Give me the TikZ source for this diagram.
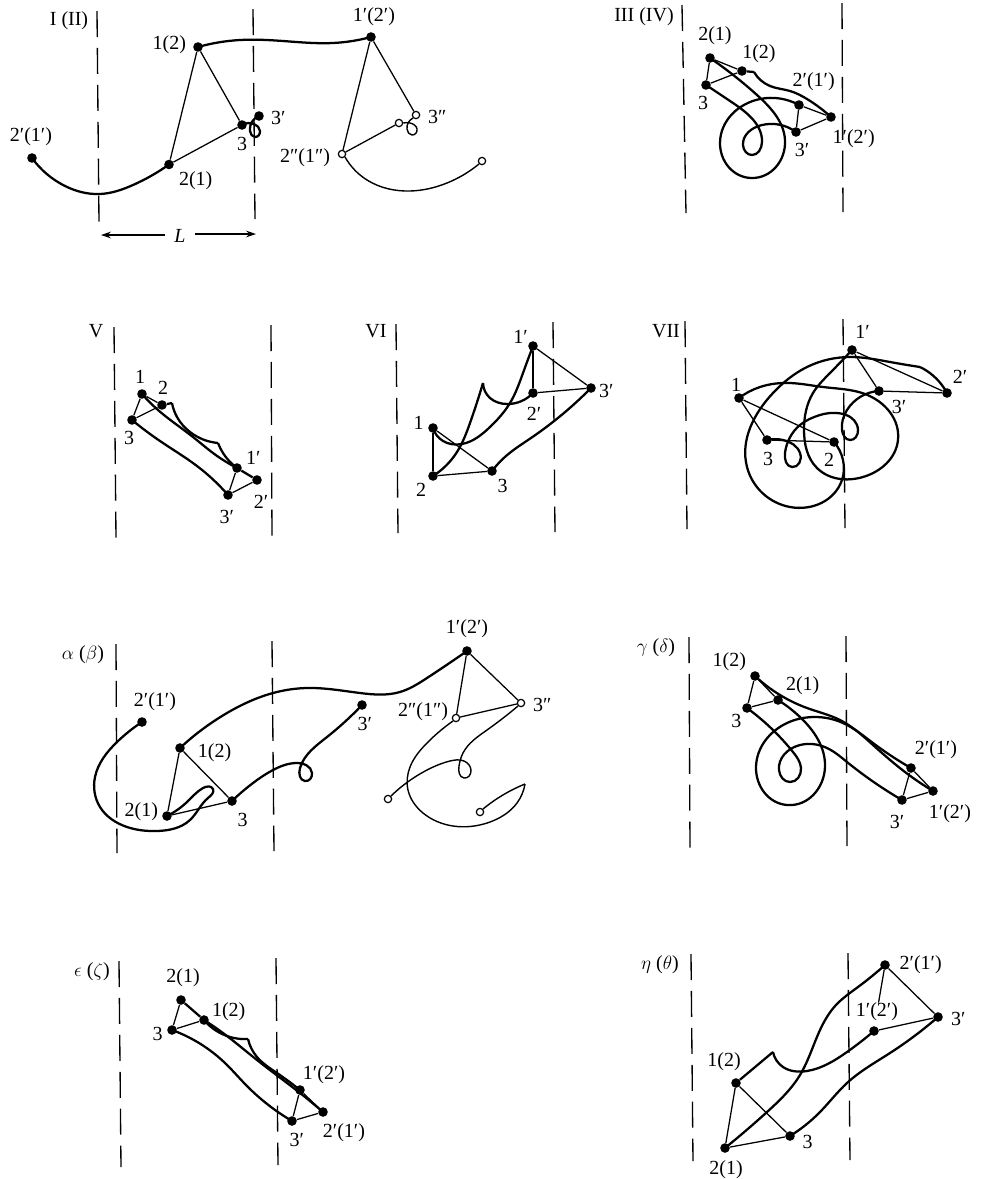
\documentclass[tikz,border=0pt]{standalone}
\usepackage{fontspec}
\setmainfont{Liberation Serif}
\usetikzlibrary{positioning, arrows.meta, hobby}

\begin{document}
\begin{tikzpicture}[
        x=0.75pt, y=-0.75pt,
        >={Stealth[length=7.5pt, width=5pt]},
        dot/.style={circle, fill=black, inner sep=0pt, minimum size=7.2pt},
        hollow/.style={circle, draw, line width=0.9pt, fill=white, inner sep=0pt, minimum size=5.5pt},
        lab/.style={font=\fontsize{15}{17}\selectfont, inner sep=0pt},
        wall/.style={line width=1pt, dash pattern=on 19.5pt off 8.2pt},
        bond/.style={line width=0.95pt},
        trace/.style={line width=1.7pt, line join=round, use Hobby shortcut},
        ghost/.style={line width=1.05pt, line join=round, use Hobby shortcut}
    ]
        \useasboundingbox (0,0) rectangle (983,1179);

        % Panel I (II)
        \draw[wall] (97,11) -- (99,222) (253,9) -- (255,219);
        \node[lab] (aTitle) at (69,21) {I (II)};
        \node[dot] (aTwoP) at (32,158) {};
        \node[dot] (aTwo) at (169,164.5) {};
        \node[dot] (aOne) at (198,47) {};
        \node[dot] (aThree) at (242,125) {};
        \node[dot] (aThreeP) at (259,116) {};
        \node[dot] (aOneP) at (371,37) {};
        \node[hollow] (aTwoQ) at (342,154) {};
        \node[hollow] (aThreeQ) at (416,115) {};
        \node[hollow] (aThreeR) at (399,123) {};
        \node[hollow] (aEnd) at (482,161) {};
        \node[lab, above=5.5pt of aTwoP, xshift=-0.8pt] (aLabTwoP) {2′(1′)};
        \node[lab, right=3.5pt of aTwo, yshift=-12.4pt] (aLabTwo) {2(1)};
        \node[lab, left=5pt of aOne, yshift=2pt] (aLabOne) {1(2)};
        \node[lab, below=5.5pt of aThree] (aLabThree) {3};
        \node[lab, right=5pt of aThreeP, yshift=-1.5pt] (aLabThreeP) {3′};
        \node[lab, above=4.3pt of aOneP, xshift=2.2pt] (aLabOneP) {1′(2′)};
        \node[lab, right=5.6pt of aThreeQ, yshift=-1.5pt] (aLabThreeQ) {3″};
        \node[lab, left=5.6pt of aTwoQ, yshift=-3pt] (aLabTwoQ) {2″(1″)};
        \node[lab] (aLength) at (180,236) {\textit{L}};
        \coordinate (aLeft) at (101,235);
        \coordinate (aRight) at (256,234);
        \draw[->, bond, shorten <=7pt] (aLength.west |- aLeft) -- (aLeft);
        \draw[->, bond, shorten <=7pt] (aLength.east |- aRight) -- (aRight);
        \draw[bond] (aOne) -- (aTwo);
        \draw[bond] (aOne) -- (aThree);
        \draw[bond] (aTwo) -- (aThree);
        \draw[bond] (aOneP) -- (aTwoQ);
        \draw[bond] (aOneP) -- (aThreeQ);
        \draw[bond] (aTwoQ) -- (aThreeR);
        \draw[trace] (aTwoP.center) .. (65,186) .. (100,194) .. (133,185) .. (aTwo);
        \draw[trace] (aOne.center) .. (240,40) .. (283,41) .. (333,43) .. (aOneP);
        \draw[trace] (aThree.center) .. (254,124) .. (260,131) .. (255,137) .. (250,131) .. (aThreeP);
        \draw[ghost] (aThreeR.east) .. (410,123) .. (417,129) .. (412,135) .. (407,129) .. (aThreeQ.south west);
        \draw[ghost] (aTwoQ.south east) .. (367,180) .. (410,191) .. (447,183) .. (aEnd.south west);

        % Panel III (IV)
        \draw[wall] (682,5) -- (686,213) (842,3) -- (843,212);
        \node[lab] (bTitle) at (644,17) {III (IV)};
        \node[dot] (bTwo) at (710,58) {};
        \node[dot] (bOne) at (742,71) {};
        \node[dot] (bThree) at (706,85) {};
        \node[dot] (bThreeP) at (796,132) {};
        \node[dot] (bTwoP) at (799,105) {};
        \node[dot] (bOneP) at (831,117) {};
        \coordinate (bCusp) at (754,72);
        \node[lab, above=5.8pt of bTwo, xshift=3.7pt] (bLabTwo) {2(1)};
        \node[lab, above=2pt of bOne, xshift=12.7pt] (bLabOne) {1(2)};
        \node[lab, below=4.4pt of bThree, xshift=-2.2pt] (bLabThree) {3};
        \node[lab, above=6.4pt of bTwoP, xshift=11pt] (bLabTwoP) {2′(1′)};
        \node[lab, below=4.4pt of bThreeP, xshift=4.5pt] (bLabThreeP) {3′};
        \node[lab, below=5.8pt of bOneP, xshift=17pt] (bLabOneP) {1′(2′)};
        \draw[bond] (bTwo) -- (bOne);
        \draw[bond] (bTwo) -- (bThree);
        \draw[bond] (bOne) -- (bThree);
        \draw[bond] (bTwoP) -- (bThreeP);
        \draw[bond] (bTwoP) -- (bOneP);
        \draw[bond] (bThreeP) -- (bOneP);
        \draw[trace] (bOne) -- (bCusp);
        \draw[trace] (bCusp) .. (770,86) .. (790,91) .. (807,99) .. (bOneP);
        \draw[trace] (bTwo.center) .. (757,95) .. (785,140) .. (751,178) .. (720,143) .. (760,99) .. (bTwoP);
        \draw[trace] (bThree.center) .. (733,103) .. (762,142) .. (752,155) .. (743,145) .. (762,125) .. (bThreeP);

        % Panel V
        \draw[wall] (114,327) -- (116,538) (271,325) -- (272,536);
        \node[lab] (cTitle) at (96,331) {V};
        \node[dot] (cOne) at (142,394) {};
        \node[dot] (cTwo) at (162,405) {};
        \node[dot] (cThree) at (132,420) {};
        \node[dot] (cOneP) at (237,468) {};
        \node[dot] (cTwoP) at (257,480) {};
        \node[dot] (cThreeP) at (228,495) {};
        \coordinate (cCuspA) at (172,403);
        \coordinate (cCuspB) at (218,443);
        \node[lab, above=4pt of cOne, xshift=-1.5pt] (cLabOne) {1};
        \node[lab, above=4pt of cTwo, xshift=0.8pt] (cLabTwo) {2};
        \node[lab, below=4.4pt of cThree, xshift=-2.2pt] (cLabThree) {3};
        \node[lab, right=2.8pt of cOneP, yshift=7.5pt] (cLabOneP) {1′};
        \node[lab, below=7.4pt of cTwoP, xshift=3pt] (cLabTwoP) {2′};
        \node[lab, below=7.4pt of cThreeP, xshift=-0.8pt] (cLabThreeP) {3′};
        \draw[bond] (cOne) -- (cThree);
        \draw[bond] (cTwo) -- (cThree);
        \draw[bond] (cOne) -- (cTwo);
        \draw[bond] (cOneP) -- (cThreeP);
        \draw[bond] (cTwoP) -- (cThreeP);
        \draw[trace] (cOne.center) .. (158,410) .. (193,437) .. (213,453) .. (cOneP);
        \draw[trace] (cOneP) -- (cTwoP);
        \draw[trace] (cTwo) -- (cCuspA);
        \draw[trace] (cCuspA) .. (177,417) .. (190,432) .. (cCuspB);
        \draw[trace] (cCuspB) .. (223,453) .. (cOneP);
        \draw[trace] (cThree.center) .. (160,441) .. (197,466) .. (cThreeP);

        % Panel VI
        \draw[wall] (396,324) -- (398,533) (553,322) -- (555,532);
        \node[lab] (dTitle) at (376,331) {VI};
        \node[dot] (dOne) at (433,428) {};
        \node[dot] (dTwo) at (433,476) {};
        \node[dot] (dThree) at (492,471) {};
        \node[dot] (dOneP) at (533,346) {};
        \node[dot] (dTwoP) at (533,393) {};
        \node[dot] (dThreeP) at (591,388) {};
        \coordinate (dCusp) at (483,383);
        \node[lab, left=3.1pt of dOne, yshift=3.7pt] (dLabOne) {1};
        \node[lab, below=1.6pt of dTwo, xshift=-9pt] (dLabTwo) {2};
        \node[lab, below=2.4pt of dThree, xshift=8pt] (dLabThree) {3};
        \node[lab, left=0pt of dOneP, yshift=6.7pt] (dLabOneP) {1′};
        \node[lab, below=6.9pt of dTwoP, xshift=0.8pt] (dLabTwoP) {2′};
        \node[lab, right=2pt of dThreeP, yshift=-2.2pt] (dLabThreeP) {3′};
        \draw[bond] (dOne) -- (dTwo);
        \draw[bond] (dOne) -- (dThree);
        \draw[bond] (dTwo) -- (dThree);
        \draw[bond] (dOneP) -- (dTwoP);
        \draw[bond] (dOneP) -- (dThreeP);
        \draw[bond] (dTwoP) -- (dThreeP);
        \draw[trace] (dOne.center) .. (443,441) .. (462,444) .. (490,427) .. (510,403) .. (523,373) .. (dOneP);
        \draw[trace] (dTwo.center) .. (457,452) .. (470,423) .. (dCusp);
        \draw[trace] (dCusp) .. (490,398) .. (507,404) .. (dTwoP);
        \draw[trace] (dThree.center) .. (506,456) .. (531,438) .. (dThreeP);

        % Panel VII
        \draw[wall] (685,321) -- (687,529) (843,319) -- (845,528);
        \node[lab] (eTitle) at (666,331) {VII};
        \node[dot] (eOne) at (739,398) {};
        \node[dot] (eThree) at (767,440) {};
        \node[dot] (eTwo) at (834,442) {};
        \node[dot] (eOneP) at (852,350) {};
        \node[dot] (eThreeP) at (879,391) {};
        \node[dot] (eTwoP) at (947,393) {};
        \node[lab, above=1pt of eOne, xshift=-2.2pt] (eLabOne) {1};
        \node[lab, below=5.4pt of eThree, xshift=0.8pt] (eLabThree) {3};
        \node[lab, below=4.4pt of eTwo, xshift=-3.7pt] (eLabTwo) {2};
        \node[lab, above=4.4pt of eOneP, xshift=8pt] (eLabOneP) {1′};
        \node[lab, below=3.1pt of eThreeP, xshift=15pt] (eLabThreeP) {3′};
        \node[lab, above=3.1pt of eTwoP, xshift=9.7pt] (eLabTwoP) {2′};
        \draw[bond] (eOne) -- (eThree);
        \draw[bond] (eOne) -- (eTwo);
        \draw[bond] (eThree) -- (eTwo);
        \draw[bond] (eOneP) -- (eThreeP);
        \draw[bond] (eOneP) -- (eTwoP);
        \draw[bond] (eThreeP) -- (eTwoP);
        \draw[trace] (eOne.center) .. (760,387) .. (790,383) .. (823,387) .. (865,394) .. (898,440) .. (863,477) .. (817,468) .. (804,430) .. (813,393) .. (830,373) .. (eOneP);
        \draw[trace] (eTwo.center) .. (843,460) .. (842,480) .. (790,507) .. (747,467) .. (773,393) .. (807,367) .. (850,357) .. (890,362) .. (920,367);
        \draw[trace] (920,367) .. (927,371) .. (eTwoP);
        \draw[trace] (eThree.center) .. (783,440) .. (800,453) .. (792,467) .. (785,453) .. (800,425) .. (820,415) .. (858,430) .. (850,440) .. (842,430) .. (847,410) .. (eThreeP);

        % Panel alpha (beta)
        \draw[wall] (116,644) -- (117,853) (272,641) -- (274,851);
        \node[lab] (fTitle) at (83,655) {$\alpha$ ($\beta$)};
        \node[dot] (fTwoP) at (142,722) {};
        \node[dot] (fOne) at (180,748) {};
        \node[dot] (fTwo) at (167,816) {};
        \node[dot] (fThree) at (232,801) {};
        \node[dot] (fThreeP) at (362,705) {};
        \node[dot] (fOneP) at (467,651) {};
        \node[hollow] (fTwoQ) at (456,718) {};
        \node[hollow] (fThreeQ) at (521,703) {};
        \node[hollow] (fEndA) at (388,799) {};
        \node[hollow] (fEndB) at (480,812) {};
        \node[lab, above=4.3pt of fTwoP, xshift=9.7pt] (fLabTwoP) {2′(1′)};
        \node[lab, right=9.4pt of fOne, yshift=-3.7pt] (fLabOne) {1(2)};
        \node[lab, left=2.8pt of fTwo, yshift=3pt] (fLabTwo) {2(1)};
        \node[lab, below=5.4pt of fThree, xshift=8pt] (fLabThree) {3};
        \node[lab, below=5.4pt of fThreeP, xshift=2.2pt] (fLabThreeP) {3′};
        \node[lab, above=5.8pt of fOneP] (fLabOneP) {1′(2′)};
        \node[lab, left=2.6pt of fTwoQ, yshift=4.5pt] (fLabTwoQ) {2″(1″)};
        \node[lab, right=5.6pt of fThreeQ, yshift=-1.5pt] (fLabThreeQ) {3″};
        \draw[bond] (fOne) -- (fTwo);
        \draw[bond] (fOne) -- (fThree);
        \draw[bond] (fTwo) -- (fThree);
        \draw[bond] (fOneP) -- (fTwoQ);
        \draw[bond] (fOneP) -- (fThreeQ);
        \draw[bond] (fTwoQ) -- (fThreeQ);
        \draw[trace] (fTwoP.center) .. (117,742) .. (95,777) .. (100,807) .. (127,827) .. (157,831) .. (190,820) .. (208,798) .. (213,789) .. (203,788) .. (187,802) .. (fTwo);
        \draw[trace] (fOne.center) .. (227,713) .. (273,693) .. (307,688) .. (360,693) .. (400,692) .. (427,678) .. (fOneP);
        \draw[trace] (fThree.center) .. (253,783) .. (273,770) .. (296,763) .. (312,773) .. (305,781) .. (300,768) .. (327,737) .. (fThreeP);
        \draw[ghost] (fTwoQ.south west) .. (427,743) .. (410,767) .. (408,790) .. (423,813) .. (453,826) .. (490,822) .. (517,803) .. (525,784);
        \draw[ghost] (525,784) .. (510,791) .. (fEndB.north east);
        \draw[ghost] (fThreeQ.south west) .. (487,730) .. (463,753) .. (459,766) .. (464,778) .. (471,770) .. (464,761) .. (450,761) .. (427,770) .. (fEndA.north east);

        % Panel gamma (delta)
        \draw[wall] (689,637) -- (690,848) (846,636) -- (847,846);
        \node[lab] (gTitle) at (656,648) {$\gamma$ ($\delta$)};
        \node[dot] (gOne) at (755,676) {};
        \node[dot] (gTwo) at (778,700) {};
        \node[dot] (gThree) at (747,708) {};
        \node[dot] (gTwoP) at (911,768) {};
        \node[dot] (gOneP) at (933,791) {};
        \node[dot] (gThreeP) at (902,800) {};
        \node[lab, left=2.8pt of gOne, yshift=10.5pt] (gLabOne) {1(2)};
        \node[lab, right=2pt of gTwo, yshift=10.5pt] (gLabTwo) {2(1)};
        \node[lab, below=1pt of gThree, xshift=-8pt] (gLabThree) {3};
        \node[lab, above=2.8pt of gTwoP, xshift=18.7pt] (gLabTwoP) {2′(1′)};
        \node[lab, below=6.4pt of gOneP, xshift=12.7pt] (gLabOneP) {1′(2′)};
        \node[lab, below=7.4pt of gThreeP, xshift=-3.7pt] (gLabThreeP) {3′};
        \draw[bond] (gOne) -- (gTwo);
        \draw[bond] (gOne) -- (gThree);
        \draw[bond] (gTwo) -- (gThree);
        \draw[bond] (gTwoP) -- (gThreeP);
        \draw[bond] (gTwoP) -- (gOneP);
        \draw[bond] (gThreeP) -- (gOneP);
        \draw[trace] (gOne.center) .. (780,695) .. (807,708) .. (840,720) .. (873,745) .. (905,772) .. (gOneP);
        \draw[trace] (gTwo.center) .. (800,717) .. (825,767) .. (787,805) .. (756,767) .. (787,723) .. (813,717) .. (843,723) .. (873,743) .. (gTwoP);
        \draw[trace] (gThree.center) .. (773,730) .. (793,752) .. (801,768) .. (790,782) .. (779,770) .. (800,745) .. (827,748) .. (847,762) .. (gThreeP);

        % Panel epsilon (zeta)
        \draw[wall] (119,961) -- (121,1167) (276,958) -- (278,1165);
        \node[lab] (hTitle) at (92,972) {$\epsilon$ ($\zeta$)};
        \node[dot] (hTwo) at (181,1000) {};
        \node[dot] (hOne) at (204,1020) {};
        \node[dot] (hThree) at (172,1030) {};
        \node[dot] (hOneP) at (300,1090) {};
        \node[dot] (hTwoP) at (323,1112) {};
        \node[dot] (hThreeP) at (292,1121) {};
        \coordinate (hCusp) at (248,1039);
        \node[lab, above=5.8pt of hTwo, xshift=1.5pt] (hLabTwo) {2(1)};
        \node[lab, right=2pt of hOne, yshift=6pt] (hLabOne) {1(2)};
        \node[lab, left=3.1pt of hThree, yshift=-3pt] (hLabThree) {3};
        \node[lab, above=0.5pt of hOneP, xshift=18pt] (hLabOneP) {1′(2′)};
        \node[lab, below=5pt of hTwoP, xshift=15.7pt] (hLabTwoP) {2′(1′)};
        \node[lab, below=5.4pt of hThreeP, xshift=3.7pt] (hLabThreeP) {3′};
        \draw[bond] (hTwo) -- (hThree);
        \draw[bond] (hOne) -- (hThree);
        \draw[bond] (hOneP) -- (hThreeP);
        \draw[bond] (hThreeP) -- (hTwoP);
        \draw[bond] (hOneP) -- (hTwoP);
        \draw[trace] (hTwo) -- (hOne);
        \draw[trace] (hOne.center) .. (223,1033) .. (257,1060) .. (300,1093) .. (hTwoP);
        \draw[trace] (hOne.center) .. (230,1037) .. (hCusp);
        \draw[trace] (hCusp) .. (257,1057) .. (277,1073) .. (hOneP);
        \draw[trace] (hThree.center) .. (225,1063) .. (246,1085) .. (hThreeP);

        % Panel eta (theta)
        \draw[wall] (691,954) -- (693,1161) (848,953) -- (850,1160);
        \node[lab] (kTitle) at (660,965) {$\eta$ ($\theta$)};
        \node[dot] (kTwoP) at (885,965) {};
        \node[dot] (kOneP) at (874,1031) {};
        \node[dot] (kThreeP) at (938,1017) {};
        \node[dot] (kOne) at (736,1083) {};
        \node[dot] (kTwo) at (725,1148) {};
        \node[dot] (kThree) at (790,1136) {};
        \coordinate (kCusp) at (773,1052);
        \node[lab, right=7pt of kTwoP] (kLabTwoP) {2′(1′)};
        \node[lab, above=3.5pt of kOneP, xshift=2.2pt] (kLabOneP) {1′(2′)};
        \node[lab, right=5.8pt of kThreeP, yshift=-1.5pt] (kLabThreeP) {3′};
        \node[lab, above=5pt of kOne, xshift=-9pt] (kLabOne) {1(2)};
        \node[lab, below=5.8pt of kTwo, xshift=0.8pt] (kLabTwo) {2(1)};
        \node[lab, right=5.4pt of kThree, yshift=-4.5pt] (kLabThree) {3};
        \draw[bond] (kOne) -- (kTwo);
        \draw[bond] (kOne) -- (kThree);
        \draw[bond] (kTwo) -- (kThree);
        \draw[bond] (kTwoP) -- (kLabOneP);
        \draw[bond] (kOneP) -- (kThreeP);
        \draw[bond] (kTwoP) -- (kThreeP);
        \draw[trace] (kOne) -- (kCusp);
        \draw[trace] (kCusp) .. (783,1067) .. (807,1071) .. (847,1052) .. (kOneP);
        \draw[trace] (kTwo.center) .. (767,1112) .. (800,1075) .. (820,1030) .. (836,1005) .. (858,987) .. (kTwoP);
        \draw[trace] (kThree.center) .. (820,1112) .. (847,1083) .. (890,1053) .. (kThreeP);
    \end{tikzpicture}
\end{document}
